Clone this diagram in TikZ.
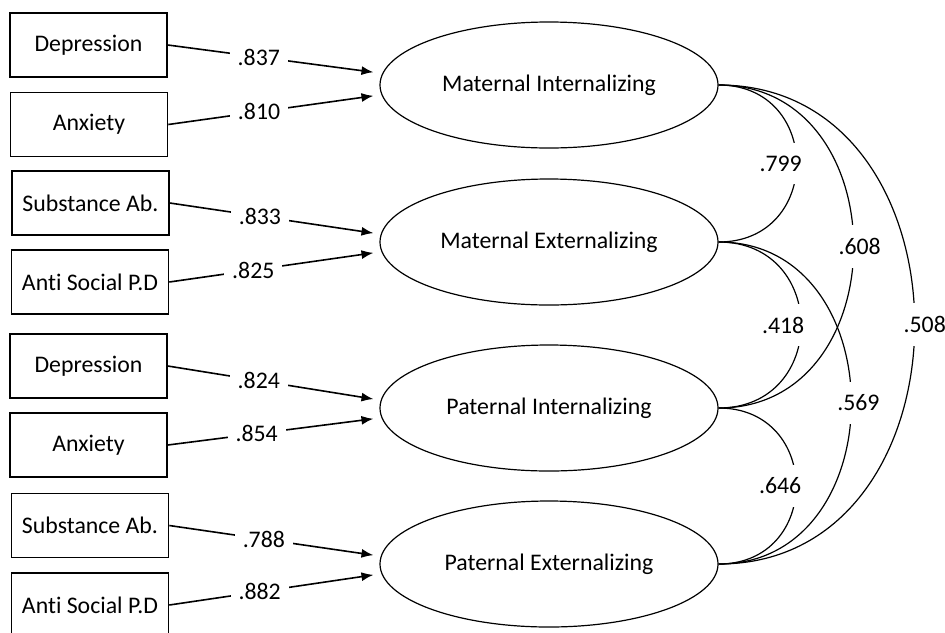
\documentclass[tikz,border=0pt]{standalone}
\usepackage{fontspec}
\setmainfont{Carlito}[Ligatures=NoCommon]
\usetikzlibrary{shapes.geometric,arrows.meta}
\newcommand{\bw}{78.5pt}
\newcommand{\bh}{32pt}

\begin{document}
\begin{tikzpicture}[x=0.5pt, y=-0.5pt, font=\fontsize{11.9}{14}\selectfont,
    obs/.style={draw, rectangle, line width=0.8pt, minimum width=\bw, minimum height=\bh, inner sep=0pt},
    lat/.style={draw, ellipse, line width=0.6pt, minimum width=169pt, minimum height=63pt, inner sep=0pt},
    load/.style={-{Latex[length=6pt,width=4.5pt]}, line width=0.8pt, shorten >=3pt},
    cov/.style={line width=0.6pt},
    val/.style={fill=white, inner xsep=4pt, inner ysep=1pt},
    cval/.style={fill=white, inner xsep=1pt, inner ysep=6.5pt}]
    \useasboundingbox (0,0) rectangle (945,632);

    % Mother
    \node[obs] (mdep) at (88.5,45) {Depression};
    \node[obs] (manx) at (89,124.5) {Anxiety};
    \node[obs] (msub) at (90.5,203) {Substance Ab.};
    \node[obs] (masp) at (90,282) {Anti Social P.D};

    % Father
    \node[obs] (pdep) at (88.5,366) {Depression};
    \node[obs] (panx) at (88.5,445) {Anxiety};
    \node[obs] (psub) at (90,525.5) {Substance Ab.};
    \node[obs] (pasp) at (90,605) {Anti Social P.D};

    % Factors
    \node[lat] (mint) at (549,85) {Maternal Internalizing};
    \node[lat] (mext) at (549,242) {Maternal Externalizing};
    \node[lat] (pint) at (549,408) {Paternal Internalizing};
    \node[lat] (pext) at (549,564) {Paternal Externalizing};

    % Loadings
    \draw[load] (mdep.east) -- node[val, pos=0.43] {.837} ([yshift=6pt]mint.west);
    \draw[load] (manx.east) -- node[val, pos=0.43] {.810} ([yshift=-5pt]mint.west);
    \draw[load] (msub.east) -- node[val, pos=0.43] {.833} ([yshift=4pt]mext.west);
    \draw[load] (masp.east) -- node[val, pos=0.40] {.825} ([yshift=-5pt]mext.west);
    \draw[load] (pdep.east) -- node[val, pos=0.43] {.824} ([yshift=4pt]pint.west);
    \draw[load] (panx.east) -- node[val, pos=0.42] {.854} ([yshift=-5pt]pint.west);
    \draw[load] (psub.east) -- node[val, pos=0.45] {.788} ([yshift=4pt]pext.west);
    \draw[load] (pasp.east) -- node[val, pos=0.43] {.882} ([yshift=-5pt]pext.west);

    % Correlations
    \draw[cov] (mint.east) to[out=0, in=0, looseness=1.7] node[cval, xshift=-8pt] {.799} (mext.east);
    \draw[cov] (mext.east) to[out=0, in=0, looseness=1.7] node[cval, xshift=-9pt] {.418} (pint.east);
    \draw[cov] (pint.east) to[out=0, in=0, looseness=1.7] node[cval, xshift=-8pt] {.646} (pext.east);
    \draw[cov] (mint.east) to[out=0, in=0, looseness=1.43] node[cval, xshift=3pt] {.608} (pint.east);
    \draw[cov] (mext.east) to[out=0, in=0, looseness=1.41] node[cval, xshift=3.5pt] {.569} (pext.east);
    \draw[cov] (mint.east) to[out=0, in=0, looseness=1.4] node[cval, xshift=5pt] {.508} (pext.east);
\end{tikzpicture}
\end{document}
